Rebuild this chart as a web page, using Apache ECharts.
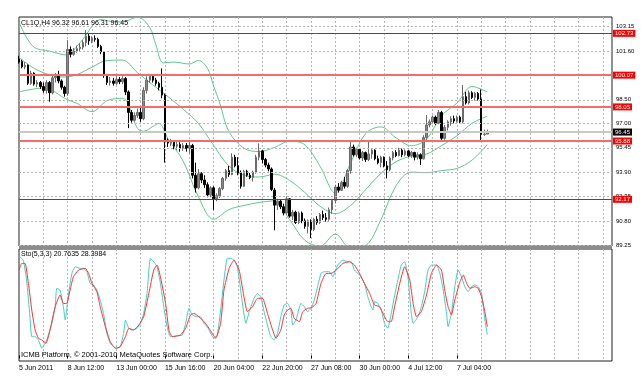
<!DOCTYPE html>
<html>
<head>
<meta charset="utf-8">
<script src="https://cdn.jsdelivr.net/npm/echarts@6/dist/echarts.min.js"></script>
<style>
  html, body { margin: 0; padding: 0; background: #fff; }
  #chart { width: 644px; height: 378px; }
</style>
</head>
<body>
<div id="chart"></div>
<script>
const FONT = "'Liberation Sans', Arial, sans-serif";
const SLOTS = 196;            // bar slots across the plot, incl. empty space on the right
const BARS_PER_LABEL = 16;
const BARS_PER_GRID = 8;

const tickLabels = ["5 Jun 2011", "8 Jun 12:00", "13 Jun 00:00", "15 Jun 16:00", "20 Jun 04:00",
  "22 Jun 20:00", "27 Jun 08:00", "30 Jun 00:00", "4 Jul 12:00", "7 Jul 04:00"];

// H4 candles: [open, close, low, high]
const ohlc = [
  [101.1, 100.9, 100.8, 101.3], [100.95, 100.6, 100.5, 101.05], [100.6, 100.7, 100.45, 100.9],
  [100.7, 99.55, 99.45, 100.75], [99.55, 100.2, 99.45, 100.35], [100.2, 99.5, 99.4, 100.25],
  [99.5, 99.6, 99.3, 99.75], [99.6, 99.35, 99.2, 99.7], [99.35, 99.1, 98.95, 99.6],
  [99.1, 99.6, 98.9, 99.75], [99.6, 98.95, 98.38, 99.7], [98.95, 99.9, 98.85, 100.1],
  [99.9, 100.0, 99.6, 100.2], [100.0, 99.7, 99.55, 100.35], [99.7, 99.3, 99.15, 99.8],
  [99.3, 98.9, 98.7, 99.4], [98.9, 101.7, 98.75, 102.3], [101.7, 101.4, 101.2, 101.9],
  [101.4, 101.6, 101.3, 101.8], [101.6, 101.75, 101.5, 101.95], [101.75, 101.85, 101.6, 102.1],
  [101.85, 102.15, 101.7, 102.3], [102.15, 102.55, 101.9, 102.94], [102.55, 102.25, 102.0, 102.75],
  [102.25, 102.4, 102.1, 102.55], [102.4, 102.35, 102.2, 102.6], [102.35, 101.9, 101.8, 102.45],
  [101.9, 101.55, 101.4, 102.0], [101.55, 100.1, 99.9, 101.6], [100.1, 99.6, 99.45, 100.15],
  [99.6, 99.7, 99.4, 99.95], [99.7, 99.55, 99.4, 99.9], [99.55, 99.8, 99.45, 100.0],
  [99.8, 99.65, 99.5, 99.95], [99.65, 99.85, 99.5, 100.0], [99.85, 99.0, 98.8, 99.95],
  [99.0, 97.7, 96.7, 99.1], [97.7, 97.2, 97.05, 97.85], [97.2, 97.5, 97.1, 97.7],
  [97.5, 97.7, 97.35, 97.95], [97.7, 97.3, 97.1, 98.1], [97.3, 99.1, 97.2, 99.3],
  [99.1, 99.75, 98.9, 100.0], [99.75, 100.0, 99.6, 100.15], [100.0, 99.75, 99.6, 100.1],
  [99.75, 99.55, 99.4, 99.9], [99.55, 99.3, 99.1, 99.65], [99.3, 98.8, 98.6, 100.5],
  [98.8, 95.9, 94.5, 98.9], [95.9, 95.75, 95.5, 96.05], [95.75, 95.8, 95.55, 96.0],
  [95.8, 95.55, 95.35, 95.95], [95.55, 95.65, 95.3, 95.85], [95.65, 95.4, 95.2, 95.8],
  [95.4, 95.6, 95.25, 95.75], [95.6, 95.4, 95.2, 95.75], [95.4, 95.6, 95.1, 95.95],
  [95.6, 93.7, 93.5, 95.7], [93.7, 92.9, 92.6, 94.5], [92.9, 93.8, 92.8, 94.1],
  [93.8, 93.4, 93.2, 93.9], [93.4, 93.1, 92.9, 93.7], [93.1, 92.45, 92.3, 93.25],
  [92.45, 92.9, 92.3, 93.0], [92.9, 92.2, 91.5, 93.0], [92.2, 92.4, 92.05, 92.55],
  [92.4, 92.85, 92.25, 92.95], [92.85, 93.5, 92.75, 93.6], [93.5, 94.0, 93.35, 94.1],
  [94.0, 93.75, 93.6, 94.3], [93.75, 94.85, 93.7, 95.1], [94.85, 94.3, 94.2, 95.0],
  [94.3, 93.85, 93.7, 94.85], [93.85, 93.0, 92.85, 94.0], [93.0, 93.95, 92.95, 94.05],
  [93.95, 93.7, 93.6, 94.05], [93.7, 93.55, 93.45, 93.85], [93.55, 93.9, 93.3, 94.0],
  [93.9, 94.85, 93.8, 95.0], [94.85, 95.25, 94.65, 95.73], [95.25, 94.7, 94.45, 95.3],
  [94.7, 94.35, 94.2, 94.8], [94.35, 94.1, 93.95, 94.5], [94.1, 92.8, 92.7, 94.2],
  [92.75, 91.8, 90.2, 92.9], [91.8, 92.05, 91.5, 92.2], [92.05, 91.7, 91.55, 92.15],
  [91.7, 91.3, 91.15, 91.9], [91.3, 92.2, 91.2, 92.35], [92.2, 91.1, 91.0, 92.25],
  [91.1, 91.35, 90.85, 91.5], [91.35, 90.7, 90.6, 91.45], [90.7, 91.3, 90.6, 91.4],
  [91.3, 90.8, 90.65, 91.4], [90.8, 90.45, 90.3, 90.95], [90.45, 90.8, 90.0, 90.9],
  [90.8, 90.25, 89.7, 90.9], [90.25, 90.9, 90.15, 91.0], [90.9, 90.7, 90.55, 91.1],
  [90.7, 91.2, 90.6, 91.3], [91.2, 91.0, 90.85, 91.45], [91.0, 90.9, 90.75, 91.3],
  [90.9, 91.5, 90.8, 91.65], [91.5, 92.1, 91.25, 92.2], [92.1, 92.95, 91.9, 93.1],
  [92.95, 92.75, 92.6, 93.2], [92.75, 93.25, 92.7, 93.35], [93.25, 93.0, 92.85, 93.6],
  [93.0, 94.0, 92.9, 94.1], [94.0, 95.5, 93.8, 95.83], [95.5, 95.0, 94.9, 95.65],
  [95.0, 95.35, 94.85, 95.45], [95.35, 94.8, 94.7, 95.4], [94.8, 95.15, 94.6, 95.25],
  [95.15, 94.7, 94.55, 95.2], [94.7, 95.05, 94.6, 95.83], [95.05, 95.3, 94.75, 95.4],
  [95.3, 94.75, 94.65, 95.35], [94.75, 94.5, 94.4, 94.95], [94.5, 94.85, 94.2, 94.95],
  [94.85, 94.3, 94.2, 94.9], [94.3, 94.05, 93.5, 94.6], [94.05, 94.8, 93.95, 94.9],
  [94.8, 95.15, 94.65, 95.25], [95.15, 94.95, 94.85, 95.3], [94.95, 95.3, 94.9, 95.45],
  [95.3, 95.0, 94.85, 95.4], [95.0, 95.25, 94.9, 95.35], [95.25, 94.95, 94.85, 95.3],
  [94.95, 95.15, 94.8, 95.25], [95.15, 94.85, 94.65, 95.2], [94.85, 95.0, 94.7, 95.15],
  [95.0, 94.75, 94.35, 95.1], [94.75, 96.1, 94.7, 96.25], [96.1, 96.9, 95.95, 97.53],
  [96.9, 97.1, 96.75, 97.25], [97.1, 97.4, 96.95, 97.5], [97.4, 97.0, 96.9, 97.5],
  [97.0, 97.7, 96.95, 97.85], [97.7, 96.05, 95.95, 97.8], [96.05, 96.75, 95.95, 96.9],
  [96.75, 97.1, 96.55, 97.2], [97.1, 97.3, 96.85, 97.45], [97.3, 97.15, 97.0, 97.5],
  [97.15, 97.4, 97.05, 97.5], [97.4, 97.1, 97.0, 97.5], [97.1, 98.7, 97.0, 99.44],
  [98.7, 98.3, 98.2, 99.0], [98.3, 98.95, 98.2, 99.1], [98.95, 98.65, 98.55, 99.05],
  [98.65, 98.9, 98.45, 99.0], [98.9, 98.55, 98.45, 99.0], [98.55, 96.3, 95.83, 99.16],
  [96.3, 96.32, 96.2, 96.6], [96.32, 96.45, 96.31, 96.61]
];

// Bollinger bands: [bar, price]
const bbUpper = [[0, 103.45], [4.6, 101.9], [10, 101.6], [16, 101.35], [19, 101.9], [22, 102.6],
  [24, 103.18], [27, 103.6], [30, 103.5], [34, 103.45], [39, 103.76], [43, 103.1], [45, 102.0],
  [47.5, 100.85], [51, 100.9], [56, 100.78], [59, 101.0], [62, 100.5], [64, 99.38], [66, 98.3],
  [69, 96.49], [74, 95.42], [79, 95.21], [84, 95.47], [89, 95.87], [94, 95.64], [99, 94.27],
  [104, 92.56], [109, 94.47], [114, 96.35], [119, 96.78], [124, 96.08], [129, 95.58],
  [134, 96.0], [139, 97.5], [144, 98.29], [149, 99.35], [154, 99.0]];
const bbMiddle = [[0, 101.2], [5, 100.5], [10, 100.1], [15, 99.95], [19, 100.1], [24, 100.58],
  [29, 101.0], [34, 101.03], [39, 100.22], [44, 99.45], [49, 98.7], [54, 97.9], [59, 97.0],
  [64, 95.6], [69, 94.3], [74, 93.7], [79, 93.59], [84, 93.77], [89, 93.37], [94, 92.6],
  [99, 91.73], [104, 91.26], [109, 91.77], [114, 92.79], [119, 93.82], [124, 94.56],
  [129, 94.92], [134, 95.05], [139, 95.59], [144, 96.21], [149, 97.01], [154, 97.46]];
const bbLower = [[0, 99.0], [8, 99.25], [16, 98.5], [19, 98.28], [24, 97.75], [29, 98.45],
  [34, 98.6], [39, 96.68], [41, 96.5], [44, 96.8], [46, 97.0], [49, 96.02], [54, 94.6],
  [59, 92.33], [64, 90.9], [69, 91.51], [74, 91.78], [79, 91.97], [84, 92.07], [89, 90.87],
  [94, 89.56], [99, 89.19], [104, 89.96], [109, 89.07], [114, 89.23], [119, 90.86],
  [124, 93.04], [129, 93.9], [134, 93.87], [139, 94.0], [144, 94.13], [149, 94.67],
  [154, 95.66]];

// Stochastic(5,3,3): [bar, value]
const stoMain = [[0.3, 97.8], [1.4, 94.5], [2.5, 74.7], [3.6, 38.4], [4.2, 18.6], [5.3, 18.6],
  [6.4, 15.3], [7.5, 7.1], [9.1, 15.3], [10.8, 31.8], [11.9, 48.3], [12.4, 66.5], [13.5, 64.8],
  [14.6, 48.3], [15.2, 35.1], [16.3, 61.5], [17.4, 81.3], [18.5, 87.9], [20.1, 86.3],
  [21.2, 86.3], [22.3, 83], [23.4, 71.4], [24.5, 69.8], [25.6, 64.8], [26.7, 54.9],
  [27.8, 41.7], [28.9, 21.9], [30, 12], [31.1, 8.7], [32.2, 7.1], [33.3, 8.7], [34.4, 21.9],
  [35, 35.1], [36.1, 26.9], [37.2, 25.2], [38.8, 26.9], [39.9, 31.8], [41, 41.7], [42.1, 61.5],
  [43.2, 96.2], [44.3, 92.9], [45.4, 87.9], [46.5, 71.4], [47.6, 48.3], [48.7, 28.5],
  [49.8, 18.6], [52, 19.3], [53.7, 20.3], [54.8, 31.8], [55.9, 46.7], [57, 40.1], [58.6, 38.4],
  [59.7, 38.4], [60.8, 31.8], [61.9, 28.5], [64.1, 17], [65.2, 20.3], [66.3, 45], [67.4, 74.7],
  [68.5, 96.2], [69.6, 96.2], [70.7, 94.5], [71.8, 87.9], [72.9, 64.8], [74, 40.1],
  [74.6, 31.8], [75.7, 43.4], [77.3, 56.6], [78.4, 61.5], [79.5, 58.2], [80.6, 43.4],
  [81.7, 30.2], [82.8, 18.6], [83.9, 15.3], [85, 21.9], [86.1, 38.4], [87.2, 50], [88.3, 51.6],
  [89.4, 45], [90, 30.2], [91.1, 35.1], [92.7, 51.6], [93.8, 48.3], [94.9, 43.4], [96, 46.5],
  [97.1, 54.9], [99.3, 81.3], [100.4, 83], [102.1, 83], [103.2, 78], [104.8, 89.6],
  [106.5, 94.5], [108.1, 92.9], [109.2, 92.9], [110.3, 84.6], [112, 79.7], [113.6, 71.4],
  [114.7, 58.2], [115.8, 48.3], [116.4, 45], [116.9, 53.3], [118, 51.6], [119.1, 45],
  [120.2, 31.8], [121.3, 26.9], [122.4, 41.7], [124.1, 68.1], [125.7, 89.6], [126.8, 92.9],
  [127.9, 78], [129, 41.7], [129.6, 31.8], [131.2, 38.4], [132.3, 48.3], [133.4, 63.2],
  [134.5, 84.6], [135.6, 89.6], [137.3, 89.6], [138.4, 81.3], [139.5, 64.8], [140.6, 41.7],
  [141.1, 28.5], [142.2, 41.7], [143.3, 68.1], [144.4, 84.6], [145.5, 78], [146.6, 68.1],
  [147.7, 63.2], [148.8, 68.1], [149.9, 69.8], [151, 68.1], [152.1, 61.5], [153.2, 35.1],
  [154, 20.76]];
const stoSignal = [[0, 84.6], [0.9, 91.2], [2, 91.2], [3.1, 71.4], [4.2, 45], [5.3, 25.2],
  [6.4, 17], [7.5, 15.3], [8.9, 12], [10.2, 25.2], [11.9, 48.3], [13.5, 59.9], [14.6, 51.6],
  [15.7, 51.6], [16.8, 64.8], [17.9, 78], [19.6, 84.6], [21.8, 86.3], [22.9, 81.3], [24, 71.4],
  [25.6, 63.2], [26.7, 48.3], [28.4, 28.5], [30, 13.7], [31.7, 7.1], [33.3, 8.7], [35, 18.6],
  [36.1, 26.9], [37.7, 25.2], [39.4, 30.2], [41, 38.4], [42.7, 61.5], [44.3, 84.6],
  [45.4, 89.6], [46.5, 78], [48.2, 51.6], [49.3, 25.2], [50.4, 18.6], [53.1, 20.3],
  [54.8, 26.9], [56.4, 40.1], [57.5, 41.7], [59.2, 38.4], [60.8, 33.5], [62.5, 26.9],
  [64.7, 17], [66.3, 31.8], [67.4, 64.8], [69.1, 86.3], [70.7, 94.5], [72.4, 84.6],
  [73.5, 66.5], [75.1, 43.4], [76.8, 48.3], [78.4, 56.6], [80.1, 56.6], [81.7, 41.7],
  [83.4, 25.2], [84.5, 17], [86.1, 25.2], [87.2, 40.1], [88.3, 45], [89.4, 46.7], [90.5, 36.7],
  [92.2, 33.5], [93.3, 43.4], [94.9, 46.7], [96.3, 47.5], [97.7, 51.6], [99.3, 71.4],
  [101, 81.3], [102.6, 81.3], [104.3, 84.6], [106.5, 91.2], [108.7, 92.9], [110.3, 89.6],
  [112, 81.3], [113.6, 71.4], [115.3, 61.5], [116.9, 50], [118.6, 48.3], [120.2, 38.4],
  [121.3, 33.5], [122.4, 33.5], [123.5, 48.3], [125.2, 71.4], [126.8, 87.9], [128.5, 74.7],
  [129.6, 51.6], [130.7, 38.4], [132.3, 43.4], [134, 59.9], [135.6, 81.3], [137.3, 89.6],
  [138.9, 84.6], [140, 64.8], [141.1, 48.3], [142.2, 40.1], [143.3, 54.9], [145, 73],
  [146.1, 79.7], [147.2, 71.4], [148.3, 66.5], [149.9, 68.1], [151, 66.5], [152.1, 58.2],
  [153.2, 43.4], [154, 28.4]];

const priceTicks = [89.25, 90.80, 92.35, 93.90, 95.45, 97.00, 98.50, 100.05, 101.60, 103.15];
const levelLines = [102.73, 100.07, 98.05, 95.88, 92.17];
const levelThin = [102.73, 92.17];
const bidPrice = 96.45;
const stoTicks = [0, 100];

const categories = Array.from({ length: SLOTS }, (_, i) =>
  i % BARS_PER_LABEL === 0 ? tickLabels[i / BARS_PER_LABEL] || "" : "");

const isLabelSlot = (i) => i % BARS_PER_LABEL === 0 && i / BARS_PER_LABEL < tickLabels.length;
const isGridSlot = (i) => i > 0 && i % BARS_PER_GRID === 0;

const dashed = { color: "#b4b4b4", type: [2, 2], width: 1 };
const axisText = { fontFamily: FONT, fontSize: 6, color: "#000" };

function tickMark(v) {
  return {
    yAxis: v,
    lineStyle: dashed,
    label: { show: true, position: "end", distance: 4, formatter: v.toFixed(2), ...axisText },
  };
}

function levelMark(v, bg, color, width) {
  return {
    yAxis: v,
    lineStyle: { color, width, type: "solid", opacity: 1 },
    label: {
      show: true, position: "end", distance: 1, formatter: v.toFixed(2), ...axisText,
      color: "#fff", backgroundColor: bg, padding: [1, 2, 0, 2],
    },
  };
}

function bandSeries(data) {
  return {
    type: "line", xAxisIndex: 2, yAxisIndex: 0, data, symbol: "none", smooth: 0.35,
    lineStyle: { color: "#5cc88a", width: 1 }, z: 3, silent: true,
  };
}

const chart = echarts.init(document.getElementById("chart"), null, { renderer: "canvas" });

chart.setOption({
  animation: false,
  backgroundColor: "#fff",
  title: [
    { text: "CL1Q,H4 96.32 96.61 96.31 96.45", left: 21, top: 20, padding: 0,
      textStyle: { fontFamily: FONT, fontSize: 7, fontWeight: "normal", color: "#000" } },
    { text: "Sto(5,3,3) 20.7635 28.3984", left: 21, top: 251, padding: 0,
      textStyle: { fontFamily: FONT, fontSize: 7, fontWeight: "normal", color: "#000" } },
    { text: "ICMB Platform, © 2001-2010 MetaQuotes Software Corp.", left: 21, top: 351, padding: 0,
      textStyle: { fontFamily: FONT, fontSize: 7.5, fontWeight: "normal", color: "#000" } },
  ],
  graphic: [
    // thick separator between the price window and the indicator window
    { type: "rect", left: 19, top: 246, shape: { width: 593, height: 3 },
      style: { fill: "#8c8c8c" }, z: 10, silent: true },
  ],
  grid: [
    { left: 19, top: 17, width: 593, height: 229, show: true, borderColor: "#222", borderWidth: 1 },
    { left: 19, top: 249, width: 593, height: 112, show: true, borderColor: "#222", borderWidth: 1 },
  ],
  xAxis: [
    { type: "category", gridIndex: 0, data: categories, boundaryGap: false,
      axisLine: { show: false }, axisTick: { show: false }, axisLabel: { show: false },
      splitLine: { show: true, interval: isGridSlot, lineStyle: dashed } },
    { type: "category", gridIndex: 1, data: categories, boundaryGap: false,
      axisLine: { show: false },
      axisTick: { show: true, interval: isLabelSlot, length: 3, lineStyle: { color: "#000" } },
      axisLabel: { show: true, interval: isLabelSlot, align: "left", margin: 4,
        fontFamily: FONT, fontSize: 7, color: "#000" },
      splitLine: { show: true, interval: isGridSlot, lineStyle: dashed } },
    { type: "value", gridIndex: 0, min: 0, max: SLOTS - 1, show: false },
    { type: "value", gridIndex: 1, min: 0, max: SLOTS - 1, show: false },
  ],
  yAxis: [
    { type: "value", gridIndex: 0, min: 89.2, max: 103.77, show: false, splitLine: { show: false } },
    { type: "value", gridIndex: 1, min: -5.5, max: 105.5, show: false, splitLine: { show: false } },
  ],
  series: [
    {
      type: "line", xAxisIndex: 2, yAxisIndex: 0, data: [], z: 1, silent: true,
      markLine: {
        silent: true, symbol: ["none", "none"], animation: false,
        data: [
          ...priceTicks.map(tickMark),
          levelMark(bidPrice, "#000", "#c8c8c8", 2),
          ...levelLines.map((v) => levelThin.includes(v)
            ? levelMark(v, "#ff0000", "#ff0000", 1)
            : levelMark(v, "#ff0000", "#f56a6a", 2)),
        ],
      },
    },
    {
      type: "candlestick", xAxisIndex: 0, yAxisIndex: 0, data: ohlc, barWidth: 2, z: 4,
      itemStyle: { color: "#8a8a8a", borderColor: "#6a6a6a", color0: "#000", borderColor0: "#000", borderWidth: 1 },
    },
    bandSeries(bbUpper),
    bandSeries(bbMiddle),
    bandSeries(bbLower),
    {
      type: "line", xAxisIndex: 3, yAxisIndex: 1, data: [], silent: true,
      markLine: {
        silent: true, symbol: ["none", "none"], animation: false,
        data: stoTicks.map((v) => ({
          yAxis: v, lineStyle: { opacity: 0 },
          label: { show: true, position: "end", distance: 4, formatter: String(v), ...axisText },
        })),
      },
    },
    { type: "line", xAxisIndex: 3, yAxisIndex: 1, data: stoMain, symbol: "none", smooth: 0.15,
      lineStyle: { color: "#3fcfc4", width: 1 }, z: 3, silent: true },
    { type: "line", xAxisIndex: 3, yAxisIndex: 1, data: stoSignal, symbol: "none", smooth: 0.15,
      lineStyle: { color: "#ff3030", width: 1 }, z: 4, silent: true },
  ],
});
</script>
</body>
</html>
